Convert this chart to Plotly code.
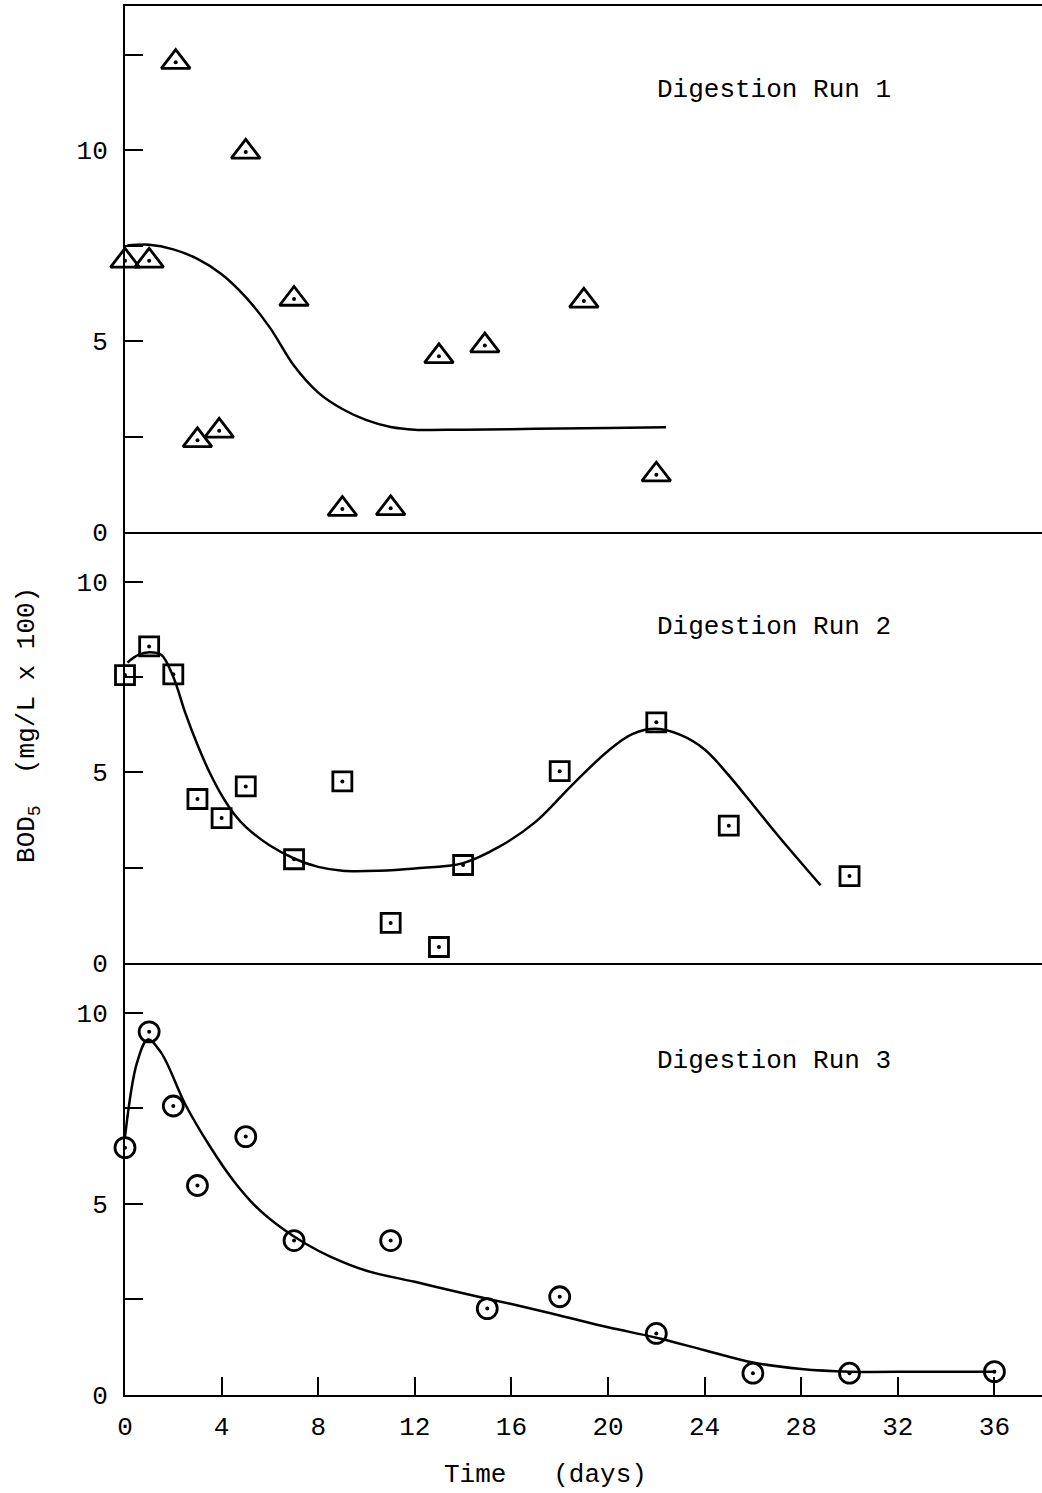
import plotly.graph_objects as go

# ---------------- data ----------------
# Digestion Run 1 (triangles)
run1_days = [0, 1.0, 2.1, 3.0, 3.9, 5.0, 7.0, 9.0, 11.0, 13.0, 14.9, 19.0, 22.0]
run1_bod = [7.1, 7.1, 12.3, 2.4, 2.65, 9.95, 6.1, 0.6, 0.62, 4.6, 4.88, 6.05, 1.5]
fit1_days = [0.1, 1, 2, 3, 4, 5, 6, 7, 8, 9, 10, 11, 12, 14, 17, 20, 22.4]
fit1_bod = [7.5, 7.52, 7.4, 7.15, 6.75, 6.15, 5.35, 4.35, 3.65, 3.22, 2.93, 2.75, 2.68,
            2.68, 2.7, 2.72, 2.74]

# Digestion Run 2 (squares)
run2_days = [0, 1, 2, 3, 4, 5, 7, 9, 11, 13, 14, 18, 22, 25, 30]
run2_bod = [7.55, 8.3, 7.57, 4.3, 3.8, 4.63, 2.72, 4.76, 1.05, 0.42, 2.57, 5.03, 6.31, 3.6, 2.28]
fit2_days = [0.1, 0.55, 1.0, 1.5, 2.0, 2.5, 3.0, 3.5, 4.0, 4.5, 5.0, 6.0, 7.0, 8.0, 9.0,
             10.5, 12, 14, 15.5, 17, 18.5, 20, 21, 22, 23, 24, 25, 26, 27, 28.8]
fit2_bod = [7.88, 8.08, 8.15, 8.08, 7.5, 6.55, 5.72, 5.0, 4.4, 3.92, 3.57, 3.08, 2.74, 2.52, 2.42,
            2.42, 2.48, 2.62, 3.05, 3.7, 4.66, 5.56, 6.0, 6.14, 5.98, 5.6, 4.92, 4.15, 3.37, 2.04]

# Digestion Run 3 (circles)
run3_days = [0, 1, 2, 3, 5, 7, 11, 15, 18, 22, 26, 30, 36]
run3_bod = [6.47, 9.5, 7.56, 5.48, 6.76, 4.04, 4.04, 2.26, 2.57, 1.61, 0.57, 0.57, 0.61]
fit3_days = [0, 0.5, 0.95, 1.5, 2.5, 3.5, 4.5, 5.5, 6.5, 7.5, 8.5, 10, 12, 14, 16, 18, 20,
             22, 24, 26, 28, 30, 33, 36]
fit3_bod = [6.75, 8.7, 9.3, 8.95, 7.6, 6.52, 5.6, 4.88, 4.36, 3.95, 3.62, 3.25, 2.96, 2.66,
            2.38, 2.08, 1.77, 1.5, 1.17, 0.85, 0.68, 0.61, 0.61, 0.61]

x_ticks = [0, 4, 8, 12, 16, 20, 24, 28, 32, 36]
y_ticks_top = [0, 2.5, 5, 7.5, 10, 12.5]
y_ticklabels_top = ["0", "", "5", "", "10", ""]
y_ticks = [0, 2.5, 5, 7.5, 10]
y_ticklabels = ["0", "", "5", "", "10"]

panel_labels = ["Digestion Run 1", "Digestion Run 2", "Digestion Run 3"]

# ---------------- figure ----------------
FONT = "Liberation Mono"
BLACK = "black"

fig = go.Figure()

def add_run(days, vals, fdays, fvals, symbol, size, xa, ya):
    fig.add_trace(go.Scatter(x=fdays, y=fvals, xaxis=xa, yaxis=ya, mode="lines",
                             line=dict(color=BLACK, width=2.5, shape="spline", smoothing=1.0),
                             hoverinfo="skip"))
    fig.add_trace(go.Scatter(x=days, y=vals, xaxis=xa, yaxis=ya, mode="markers",
                             cliponaxis=False,
                             marker=dict(symbol=symbol, size=size, color=BLACK,
                                         line=dict(color=BLACK, width=2.8))))
    # centre dot of each plotted symbol
    fig.add_trace(go.Scatter(x=days, y=vals, xaxis=xa, yaxis=ya, mode="markers",
                             cliponaxis=False, hoverinfo="skip",
                             marker=dict(symbol="circle", size=4, color=BLACK,
                                         line=dict(width=0))))

add_run(run1_days, run1_bod, fit1_days, fit1_bod, "triangle-up-open", 25, "x", "y")
add_run(run2_days, run2_bod, fit2_days, fit2_bod, "square-open", 19, "x2", "y2")
add_run(run3_days, run3_bod, fit3_days, fit3_bod, "circle-open", 20, "x3", "y3")

XR = [0, 37.97]
common_x = dict(range=XR, showgrid=False, zeroline=False, showline=True,
                linecolor=BLACK, linewidth=2, fixedrange=True)
common_y = dict(showgrid=False, zeroline=False, showline=True, linecolor=BLACK,
                linewidth=2, ticks="inside", ticklen=18, tickwidth=2, tickcolor=BLACK,
                tickfont=dict(family=FONT, size=26, color=BLACK), ticklabelstandoff=10)

d1 = [0.6213, 1.0]
d2 = [0.3110, 0.6213]
d3 = [0.0, 0.3110]

fig.update_layout(
    width=1042, height=1493,
    margin=dict(l=125, r=0, t=6, b=98),
    paper_bgcolor="white", plot_bgcolor="white",
    showlegend=False,
    font=dict(family=FONT, size=26, color=BLACK),
    xaxis=dict(common_x, anchor="y", mirror=True, showticklabels=False, ticks=""),
    xaxis2=dict(common_x, anchor="y2", showticklabels=False, ticks="", matches="x"),
    xaxis3=dict(common_x, anchor="y3", matches="x", ticks="inside", ticklen=18,
                tickwidth=2, tickcolor=BLACK, tickvals=x_ticks,
                ticktext=[str(v) for v in x_ticks],
                tickfont=dict(family=FONT, size=26, color=BLACK), ticklabelstandoff=7),
    yaxis=dict(common_y, domain=d1, anchor="x", range=[0, 13.77],
               tickvals=y_ticks_top, ticktext=y_ticklabels_top),
    yaxis2=dict(common_y, domain=d2, anchor="x2", range=[0, 11.3],
                tickvals=y_ticks, ticktext=y_ticklabels),
    yaxis3=dict(common_y, domain=d3, anchor="x3", range=[0, 11.3],
                tickvals=y_ticks, ticktext=y_ticklabels),
)

# panel labels
for label, xa, ya, yv in [(panel_labels[0], "x", "y", 11.57),
                          (panel_labels[1], "x2", "y2", 8.82),
                          (panel_labels[2], "x3", "y3", 8.75)]:
    fig.add_annotation(text=label, x=21.95, y=yv, xref=xa, yref=ya,
                       xanchor="left", yanchor="middle", showarrow=False,
                       font=dict(family=FONT, size=26, color=BLACK))

# axis titles
fig.add_annotation(text="Time\u00a0\u00a0\u00a0(days)", x=(545 - 125) / 917, y=-0.0576,
                   xref="paper", yref="paper", xanchor="center", yanchor="middle",
                   showarrow=False, font=dict(family=FONT, size=26, color=BLACK))
fig.add_annotation(text="BOD<sub>5</sub>\u00a0\u00a0(mg/L x 100)", x=(28 - 125) / 917, y=0.4824,
                   xref="paper", yref="paper", xanchor="center", yanchor="middle",
                   textangle=-90, showarrow=False,
                   font=dict(family=FONT, size=26, color=BLACK))

fig.write_html("out.html")
